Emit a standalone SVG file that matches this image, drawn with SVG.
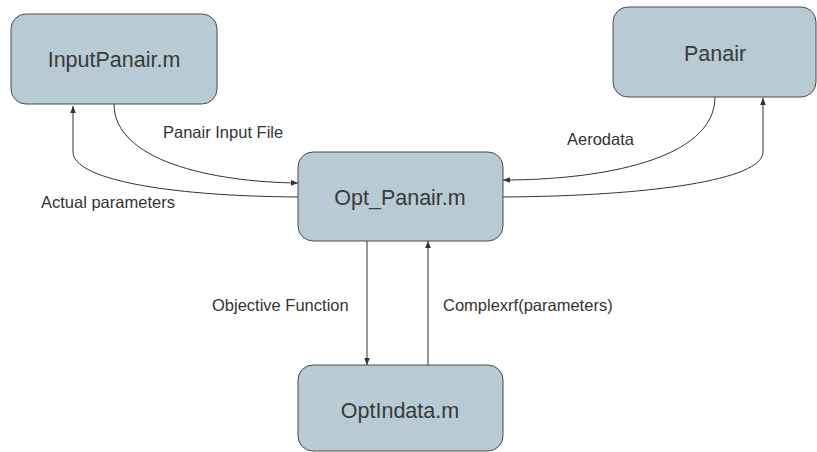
<svg xmlns="http://www.w3.org/2000/svg" width="817" height="452" viewBox="0 0 817 452">
<style>
.box{fill:#b8cad4;stroke:#4a4a4a;stroke-width:1}
.title{font-family:"Liberation Sans",Arial,sans-serif;font-size:21.5px;fill:#3a3a3a;text-anchor:middle}
.lbl{font-family:"Liberation Sans",Arial,sans-serif;font-size:16.5px;fill:#333}
.edge{fill:none;stroke:#333;stroke-width:1}
</style>
<defs>
<marker id="ah" viewBox="0 0 10 10" refX="10" refY="5" markerWidth="7" markerHeight="7" markerUnits="userSpaceOnUse" orient="auto">
<path d="M0,1 L10,5 L0,9 z" fill="#333"/>
</marker>
</defs>
<rect width="817" height="452" fill="#fff"/>
<g id="connectors">
<path class="edge" d="M114,104 C114,160 210,182 298,183" marker-end="url(#ah)"/>
<path class="edge" d="M298,197 C160,196 73,178 73,152 L73,106" marker-end="url(#ah)"/>
<path class="edge" d="M715,97 C715,160 600,180 503,180" marker-end="url(#ah)"/>
<path class="edge" d="M503,197 C650,196 763,180 763,152 L763,98" marker-end="url(#ah)"/>
<path class="edge" d="M367,241 L367,365" marker-end="url(#ah)"/>
<path class="edge" d="M428,365 L428,241" marker-end="url(#ah)"/>
<text class="lbl" x="163" y="138">Panair Input File</text>
<text class="lbl" x="41" y="208">Actual parameters</text>
<text class="lbl" x="567" y="145">Aerodata</text>
<text class="lbl" x="212" y="311">Objective Function</text>
<text class="lbl" x="443" y="311">Complexrf(parameters)</text>
</g>
<g id="InputPanair">
<rect class="box" x="11" y="14" width="206" height="90" rx="15"/>
<text class="title" x="114" y="67">InputPanair.m</text>
</g>
<g id="Panair">
<rect class="box" x="613" y="7" width="203" height="90" rx="15"/>
<text class="title" x="715" y="61">Panair</text>
</g>
<g id="Opt_Panair">
<rect class="box" x="298" y="152" width="205" height="89" rx="15"/>
<text class="title" x="400" y="205">Opt_Panair.m</text>
</g>
<g id="OptIndata">
<rect class="box" x="298" y="365" width="205" height="86" rx="15"/>
<text class="title" x="400" y="418">OptIndata.m</text>
</g>
</svg>
